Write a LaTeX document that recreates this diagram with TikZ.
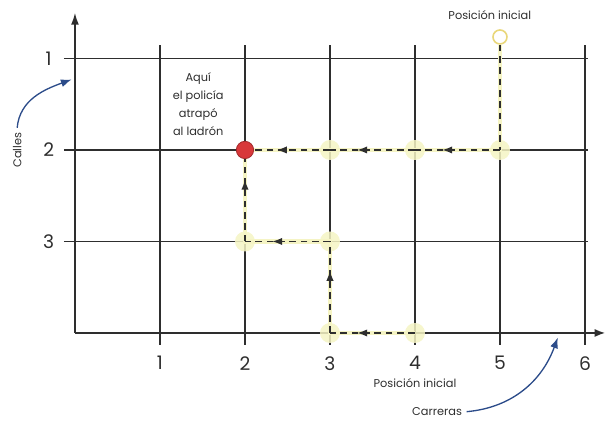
\documentclass[tikz,border=0pt]{standalone}
\usepackage{fontspec}
\setmainfont{Poppins}
\usetikzlibrary{arrows.meta,positioning,calc,decorations.markings}
\definecolor{ink}{HTML}{2E2E2E}
\definecolor{glow}{HTML}{F5F4C4}
\definecolor{ring}{HTML}{E9D77A}
\definecolor{hintblue}{HTML}{2C4C8A}
\definecolor{caughtred}{HTML}{D8383A}

\begin{document}
\begin{tikzpicture}[>=Latex,x=63.75pt,y=68.625pt,
  street/.style={ink,line width=1.3pt},
  num/.style={font=\fontsize{14}{14}\selectfont,text=ink},
  lbl/.style={font=\fontsize{8.5}{13.5}\selectfont,text=ink},
  stopglow/.style={circle,fill=glow,fill opacity=0.85,minimum size=15pt,inner sep=0pt},
  halo/.style={glow,line width=3.5pt},
  trail/.style={ink,line width=1.1pt,dash pattern=on 5pt off 3.5pt},
  route/.style={trail,postaction={decorate},decoration={markings,mark=at position #1 with {\arrow{Latex[length=7.5pt,width=5.5pt]}}}},
  route/.default=0.68,
  hint/.style={hintblue,line width=1pt,-{Latex[length=8pt,width=6pt]}}]
\useasboundingbox (-0.882,-0.984) rectangle (6.259,3.639);
% calles y carreras
\foreach \r in {1,2,3} \draw[street] (-0.13,\r) -- (6.04,\r);
\foreach \c in {1,...,6} \draw[street] (\c,-0.13) -- (\c,3.15);
\draw[street,-{Latex[length=8pt,width=6pt]}] (0,0) -- (6.24,0);
\draw[street,-{Latex[length=9pt,width=6pt]}] (0,0) -- (0,3.5);
\foreach \r/\n in {3/1,2/2,1/3} \node[num] (s\n) at (-0.31,\r) {\n};
\foreach \c in {1,...,6} \node[num] (k\c) at (\c,-0.33) {\c};
% puntos del recorrido
\node[circle,draw=ring,line width=1.2pt,fill=white,minimum size=10.5pt,inner sep=0pt] (top) at (5,3.235) {};
\node[stopglow] (p52) at (5,2) {};
\node[stopglow] (p42) at (4,2) {};
\node[stopglow] (p32) at (3,2) {};
\node[stopglow] (p31) at (3,1) {};
\node[stopglow] (p21) at (2,1) {};
\node[stopglow] (p30) at (3,0) {};
\node[stopglow] (p40) at (4,0) {};
\draw[halo] (top.south) -- (p52.center) -- (p32.center) -- (2,2);
\draw[halo] (p40.center) -- (p30.center) -- (p31.center) -- (p21.center) -- (2,2);
\node[circle,fill=caughtred,draw=caughtred!75!black,line width=0.6pt,minimum size=13pt,inner sep=0pt] (caught) at (2,2) {};
\draw[trail] (top.south) -- (p52.center);
\draw[route] (p52.center) -- (p42.center);
\draw[route] (p42.center) -- (p32.center);
\draw[route=0.7] (p32.center) -- (caught.east);
\draw[route] (p40.center) -- (p30.center);
\draw[route] (p30.center) -- (p31.center);
\draw[route] (p31.center) -- (p21.center);
\draw[route=0.75] (p21.center) -- (caught.south);
% textos
\node[lbl] (topLbl) at (4.88,3.475) {Posición inicial};
\node[lbl] (botLbl) at (4,-0.55) {Posición inicial};
\node[lbl,align=center] (note) at (1.45,2.5) {Aquí\\el policía\\atrapó\\al ladrón};
\node[lbl,rotate=90] (calles) at (-0.68,2.0) {Calles};
\node[lbl] (carreras) at (4.26,-0.86) {Carreras};
\coordinate (callesTip) at (-0.04,2.77);
\coordinate (carrerasTip) at (5.68,-0.05);
\draw[hint] (calles.east) to[out=85,in=200] (callesTip);
\draw[hint] (carreras.east) to[out=5,in=-110] (carrerasTip);
\end{tikzpicture}
\end{document}
